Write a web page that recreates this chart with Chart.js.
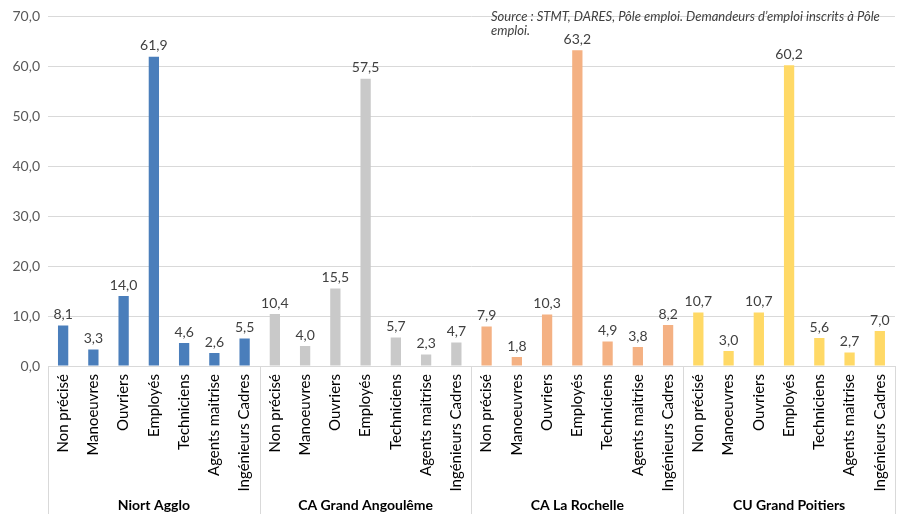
<!DOCTYPE html>
<html><head><meta charset="utf-8">
<script src="https://cdn.jsdelivr.net/npm/chart.js@4"></script>
<style>html,body{margin:0;padding:0;background:#fff;}#wrap{width:906px;height:519px;}</style>
</head><body><div id="wrap"><canvas id="c"></canvas></div>
<script>
const groups = ["Niort Agglo", "CA Grand Angoulême", "CA La Rochelle", "CU Grand Poitiers"];
const categories = ["Non précisé", "Manoeuvres", "Ouvriers", "Employés", "Techniciens", "Agents maitrise", "Ingénieurs Cadres"];
const niort = [8.1, 3.3, 14.0, 61.9, 4.6, 2.6, 5.5];
const angouleme = [10.4, 4.0, 15.5, 57.5, 5.7, 2.3, 4.7];
const rochelle = [7.9, 1.8, 10.3, 63.2, 4.9, 3.8, 8.2];
const poitiers = [10.7, 3.0, 10.7, 60.2, 5.6, 2.7, 7.0];
const groupColors = ["#4A7EBB", "#C9C9C9", "#F4B183", "#FFD966"];
const yTicks = [0, 10, 20, 30, 40, 50, 60, 70];
const sourceLines = ["Source : STMT, DARES, Pôle emploi. Demandeurs d’emploi inscrits à Pôle", "emploi."];

const series = [niort, angouleme, rochelle, poitiers];
const labels = [], values = [], colors = [];
series.forEach((s, g) => s.forEach((v, i) => { labels.push(categories[i]); values.push(v); colors.push(groupColors[g]); }));
const fmt = v => v.toFixed(1).replace('.', ',');
const FONT = 'Lato, "Noto Sans", sans-serif';

const extras = {
  id: 'extras',
  afterDatasetsDraw(chart) {
    const ctx = chart.ctx;
    const meta = chart.getDatasetMeta(0);
    ctx.save();
    ctx.fillStyle = '#404040';
    ctx.font = '14px ' + FONT;
    ctx.textAlign = 'center';
    ctx.textBaseline = 'bottom';
    meta.data.forEach((bar, i) => ctx.fillText(fmt(values[i]), bar.x, bar.y - 4));
    ctx.restore();
  },
  afterDraw(chart) {
    const ctx = chart.ctx;
    const x = chart.scales.x;
    const area = chart.chartArea;
    const n = categories.length;
    ctx.save();
    ctx.strokeStyle = '#D9D9D9';
    ctx.lineWidth = 1;
    const half = (x.getPixelForValue(1) - x.getPixelForValue(0)) / 2;
    for (let g = 0; g <= groups.length; g++) {
      let px;
      if (g < groups.length) px = x.getPixelForValue(g * n) - half;
      else px = x.getPixelForValue(g * n - 1) + half;
      px = Math.round(px) + 0.5;
      ctx.beginPath(); ctx.moveTo(px, area.bottom); ctx.lineTo(px, 514); ctx.stroke();
    }
    ctx.fillStyle = '#000';
    ctx.font = 'bold 14px ' + FONT;
    ctx.textAlign = 'center';
    ctx.textBaseline = 'middle';
    groups.forEach((name, g) => {
      const cx = (x.getPixelForValue(g * n) + x.getPixelForValue(g * n + n - 1)) / 2;
      ctx.fillText(name, cx, 505);
    });
    ctx.fillStyle = '#404040';
    ctx.font = 'italic 13px ' + FONT;
    ctx.textAlign = 'left';
    ctx.textBaseline = 'middle';
    sourceLines.forEach((l, i) => ctx.fillText(l, 491, 17 + i * 14));
    ctx.restore();
  }
};

new Chart(document.getElementById('c'), {
  type: 'bar',
  data: { labels, datasets: [{ data: values, backgroundColor: colors, barPercentage: 0.34, categoryPercentage: 1 }] },
  options: {
    responsive: true, maintainAspectRatio: false, animation: false,
    layout: { padding: { top: 8, right: 10, left: 0, bottom: 0 } },
    plugins: { legend: { display: false }, tooltip: { enabled: false } },
    scales: {
      x: {
        grid: { display: false, drawTicks: false },
        border: { color: '#D9D9D9' },
        ticks: { color: '#000', font: { family: FONT, size: 15 }, maxRotation: 90, minRotation: 90, autoSkip: false, padding: 8 },
        afterFit(s) { s.height = 153; }
      },
      y: {
        min: 0, max: 70,
        afterBuildTicks(s) { s.ticks = yTicks.map(v => ({ value: v })); },
        grid: { color: '#D9D9D9', drawTicks: false },
        border: { display: false },
        ticks: { color: '#595959', font: { family: FONT, size: 14 }, padding: 8, callback: v => fmt(v) },
        afterFit(s) { s.width = 48; }
      }
    }
  },
  plugins: [extras]
});
</script></body></html>
